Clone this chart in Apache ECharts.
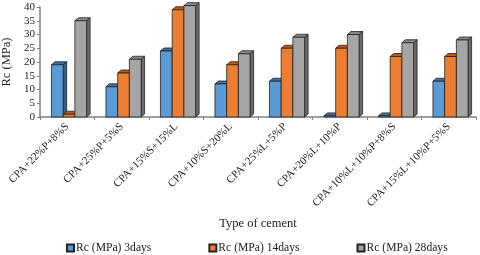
<!DOCTYPE html>
<html><head><meta charset="utf-8">
<script src="https://cdn.jsdelivr.net/npm/echarts@6/dist/echarts.min.js"></script>
<style>html,body{margin:0;padding:0;background:#fff}#c{width:480px;height:255px}</style>
</head><body><div id="c"></div>
<script>
var categories = ['CPA+22%P+8%S','CPA+25%P+5%S','CPA+15%S+15%L','CPA+10%S+20%L','CPA+25%L+5%P','CPA+20%L+10%P','CPA+10%L+10%P+8%S','CPA+15%L+10%P+5%S'];
var seriesNames = ['Rc (MPa) 3days','Rc (MPa) 14days','Rc (MPa) 28days'];
var days3 = [19, 11, 24, 12, 13, 0.4, 0.4, 13];
var days14 = [1, 16, 39, 19, 25, 25, 22, 22];
var days28 = [35, 21, 40.5, 23, 29, 30, 27, 28];
var yTicks = [0,5,10,15,20,25,30,35,40];

var colors = [
  {front:'#5b9bd5', top:'#41719c', side:'#2e5f8f'},
  {front:'#ed7d31', top:'#b85c1c', side:'#ae5a21'},
  {front:'#a5a5a5', top:'#8a8a8a', side:'#6b6b6b'}
];
var FONT = '"Liberation Serif","Times New Roman",serif';

function makeSeries(idx, data){
  var c = colors[idx];
  return {
    name: seriesNames[idx],
    type: 'custom',
    clip: false,
    itemStyle: {color: c.front, borderColor:'#222', borderWidth:1},
    data: data.map(function(v,i){return [i,v];}),
    renderItem: function(params, api){
      var ci = api.value(0), v = api.value(1);
      var top = api.coord([ci, v]);
      var base = api.coord([ci, 0]);
      var bw = api.size([1,0])[0];
      var bandLeft = top[0] - bw/2;
      var w = bw*0.215;
      var x = bandLeft + bw*0.21 + idx*w;
      var y = top[1], y0 = base[1];
      var dx = 3.5, dy = 3;
      var ls = {stroke:'#222', lineWidth:0.8};
      return {type:'group', children:[
        {type:'polygon', shape:{points:[[x+w,y],[x+w+dx,y-dy],[x+w+dx,y0-dy],[x+w,y0]]}, style:Object.assign({fill:c.side},ls)},
        {type:'polygon', shape:{points:[[x,y],[x+dx,y-dy],[x+w+dx,y-dy],[x+w,y]]}, style:Object.assign({fill:c.top},ls)},
        {type:'rect', shape:{x:x, y:y, width:w, height:y0-y}, style:Object.assign({fill:c.front},ls)}
      ]};
    }
  };
}

var chart = echarts.init(document.getElementById('c'), null, {renderer:'canvas'});
chart.setOption({
  animation:false,
  textStyle:{fontFamily:FONT},
  grid:{left:40, right:4, top:7, bottom:138, containLabel:false, outerBoundsMode:'none'},
  legend:{
    data:seriesNames, top:237, left:61, itemGap:57,
    icon:'rect', itemWidth:7, itemHeight:7,
    textStyle:{fontFamily:FONT, fontSize:11.6, color:'#222', padding:[0,0,0,-3]}
  },
  xAxis:{
    type:'category', data:categories,
    name:'Type of cement', nameLocation:'middle', nameGap:100,
    nameTextStyle:{fontFamily:FONT, fontSize:12.5, color:'#222'},
    axisLine:{lineStyle:{color:'#808080', width:1.5}},
    axisTick:{show:true, length:3, lineStyle:{color:'#808080'}},
    axisLabel:{rotate:45, interval:0, fontFamily:FONT, fontSize:11, color:'#222', margin:8}
  },
  yAxis:{
    type:'value', min:0, max:40, interval:5,
    name:'Rc (MPa)', nameLocation:'middle', nameGap:25,
    nameTextStyle:{fontFamily:FONT, fontSize:12.5, color:'#222'},
    axisLine:{show:true, lineStyle:{color:'#808080', width:1.5}},
    axisTick:{show:true, length:3, lineStyle:{color:'#808080'}},
    splitLine:{show:false},
    axisLabel:{fontFamily:FONT, fontSize:11, color:'#222', margin:5,
      formatter:function(v){return yTicks.indexOf(v)>=0? String(v):'';}}
  },
  series:[makeSeries(0,days3), makeSeries(1,days14), makeSeries(2,days28)]
});
</script></body></html>
